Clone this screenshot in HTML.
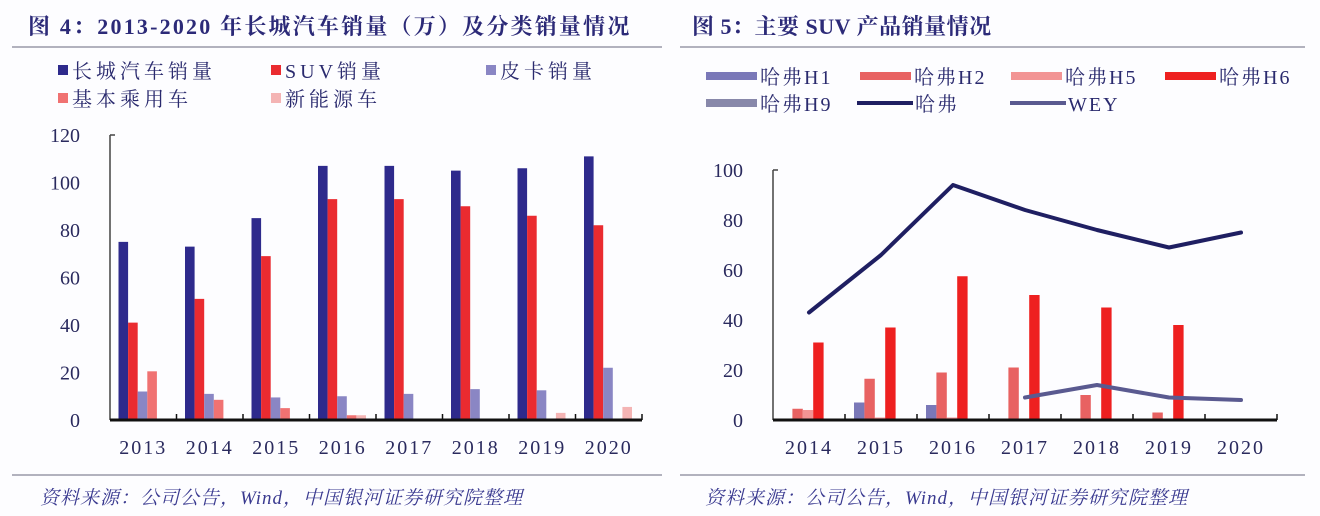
<!DOCTYPE html>
<html><head><meta charset="utf-8"><style>
body{margin:0;width:1320px;height:516px;background:#fdfdff;overflow:hidden;font-family:"Liberation Serif","Noto Serif CJK SC",serif;}
svg{position:absolute;left:0;top:0}
</style></head><body>
<svg width="1320" height="516">
<g id="static">
<text x="28" y="34" font-size="22" font-weight="bold" fill="#2c2a78" letter-spacing="2.2">图 4：2013-2020 年长城汽车销量（万）及分类销量情况</text>
<line x1="12" y1="47" x2="662" y2="47" stroke="#9a9aa8" stroke-width="1.5"/>
<text x="692" y="34" font-size="22" font-weight="bold" fill="#2c2a78" letter-spacing="0.5">图 5：主要 SUV 产品销量情况</text>
<line x1="680" y1="47" x2="1305" y2="47" stroke="#9a9aa8" stroke-width="1.5"/>
<line x1="12" y1="475" x2="662" y2="475" stroke="#9a9aa8" stroke-width="1.5"/>
<line x1="680" y1="475" x2="1305" y2="475" stroke="#9a9aa8" stroke-width="1.5"/>
<text x="40" y="504" font-size="19" font-style="italic" fill="#3a3a90" letter-spacing="1">资料来源：公司公告，Wind，中国银河证券研究院整理</text>
<text x="705" y="504" font-size="19" font-style="italic" fill="#3a3a90" letter-spacing="1">资料来源：公司公告，Wind，中国银河证券研究院整理</text>
</g>
<g id="left"></g>
<g id="right"></g>
</svg>
<script>
const NS="http://www.w3.org/2000/svg";
// Left chart data
const leftYears=["2013","2014","2015","2016","2017","2018","2019","2020"];
const leftSeriesNames=["长城汽车销量","SUV销量","皮卡销量","基本乘用车","新能源车"];
const gwTotal=[75,73,85,107,107,105,106,111];
const suvSales=[41,51,69,93,93,90,86,82];
const pickupSales=[12,11,9.5,10,11,13,12.5,22];
const basicCar=[20.5,8.5,5,2,0.3,0.2,0,0];
const nevSales=[0,0,0,2,0,0,3,5.5];
const leftTicks=[0,20,40,60,80,100,120];
// Right chart data
const rightYears=["2014","2015","2016","2017","2018","2019","2020"];
const rightBarNames=["哈弗H1","哈弗H2","哈弗H5","哈弗H6","哈弗H9"];
const h1=[0,7,6,0.5,0,0,0];
const h2=[4.5,16.5,19,21,10,3,0];
const h5=[4,1,1,0.5,0,0,0];
const h6=[31,37,57.5,50,45,38,0];
const h9=[0,0.5,0.5,0,0,0.3,0];
const haval=[43,66,94,84,76,69,75];
const wey=[null,null,null,9,14,9,8];
const rightTicks=[0,20,40,60,80,100];

function mk(p,tag,a){const e=document.createElementNS(NS,tag);for(const k in a)e.setAttribute(k,a[k]);p.appendChild(e);return e;}

// LEFT
(function(){
const g=document.getElementById('left');
const x0=110,catW=66.5,y0=420,yTop=135,max=120;
const y=v=>y0-(v/max)*(y0-yTop);
const cols=["#2e2a8c","#ea2b30","#8a86c4","#f07272","#f4b4b4"];
const series=[gwTotal,suvSales,pickupSales,basicCar,nevSales];
const bw=9.6,off=8.5;
mk(g,'line',{x1:x0,y1:y(max),x2:x0,y2:y0,stroke:'#444',"stroke-width":1.5});
mk(g,'line',{x1:x0,y1:y(max),x2:x0+5,y2:y(max),stroke:'#444',"stroke-width":1.5});
leftTicks.forEach(t=>{const e=mk(g,'text',{x:x0-30,y:y(t)+7,"font-size":20,fill:'#2a2a5e',"text-anchor":"end"});e.textContent=t;

});
series.forEach((s,si)=>s.forEach((v,i)=>{if(v<=0)return;const r=mk(g,'rect',{x:x0+i*catW+off+si*bw,y:y(v),width:bw,height:y0-y(v),fill:cols[si]});

}));
mk(g,'line',{x1:x0,y1:y0,x2:x0+8*catW,y2:y0,stroke:'#111',"stroke-width":3});
leftYears.forEach((yr,i)=>{mk(g,'line',{x1:x0+(i+1)*catW,y1:y0,x2:x0+(i+1)*catW,y2:y0-6,stroke:'#111',"stroke-width":1.5});
const e=mk(g,'text',{x:x0+(i+.5)*catW,y:454,"font-size":20,fill:'#2a2a5e',"text-anchor":"middle","letter-spacing":"2"});e.textContent=yr;

});
const pos=[[58,76],[271,76],[486,76],[58,104],[271,104]];
leftSeriesNames.forEach((n,i)=>{const lg=mk(g,'g',{});


mk(lg,'rect',{x:pos[i][0],y:pos[i][1]-11,width:10,height:10,fill:cols[i]});
const t=mk(lg,'text',{x:pos[i][0]+14,y:pos[i][1]+2,"font-size":20,fill:'#2a2a6e',"letter-spacing":"4"});t.textContent=n;});
})();

// RIGHT
(function(){
const g=document.getElementById('right');
const x0=773,catW=72,y0=420,yTop=170,max=100;
const y=v=>y0-(v/max)*(y0-yTop);
const cols=["#7a78b8","#e86262","#f29494","#ee2020","#8888aa"];
const series=[h1,h2,h5,h6,h9];
const bw=10.4,off=9;
mk(g,'line',{x1:x0,y1:y(max),x2:x0,y2:y0,stroke:'#444',"stroke-width":1.5});
mk(g,'line',{x1:x0,y1:y(max),x2:x0+5,y2:y(max),stroke:'#444',"stroke-width":1.5});
rightTicks.forEach(t=>{const e=mk(g,'text',{x:x0-30,y:y(t)+7,"font-size":20,fill:'#2a2a5e',"text-anchor":"end"});e.textContent=t;

});
series.forEach((s,si)=>s.forEach((v,i)=>{if(v<=0)return;const r=mk(g,'rect',{x:x0+i*catW+off+si*bw,y:y(v),width:bw,height:y0-y(v),fill:cols[si]});

}));
mk(g,'line',{x1:x0,y1:y0,x2:x0+7*catW,y2:y0,stroke:'#111',"stroke-width":3});
rightYears.forEach((yr,i)=>{mk(g,'line',{x1:x0+(i+1)*catW,y1:y0,x2:x0+(i+1)*catW,y2:y0-6,stroke:'#111',"stroke-width":1.5});
const e=mk(g,'text',{x:x0+(i+.5)*catW,y:454,"font-size":20,fill:'#2a2a5e',"text-anchor":"middle","letter-spacing":"2"});e.textContent=yr;

});
function line(arr,col,name){const pts=[];arr.forEach((v,i)=>{if(v!==null)pts.push((x0+(i+.5)*catW)+','+y(v));});
const p=mk(g,'polyline',{points:pts.join(' '),fill:'none',stroke:col,"stroke-width":4,"stroke-linejoin":"round","stroke-linecap":"round"});

}
line(haval,'#1f1f62','line-haval');
line(wey,'#5a5a90','line-wey');
const items=[["哈弗H1",'bar',cols[0],706,93],["哈弗H2",'bar',cols[1],860,93],["哈弗H5",'bar',cols[2],1011,93],["哈弗H6",'bar',cols[3],1165,93],["哈弗H9",'bar',cols[4],706,120],["哈弗",'line','#1f1f62',857,120],["WEY",'line','#5a5a90',1010,120]];
items.forEach(it=>{const lg=mk(g,'g',{});


if(it[1]==='bar')mk(lg,'rect',{x:it[3],y:it[4]-21,width:51,height:8,fill:it[2]});
else mk(lg,'rect',{x:it[3],y:it[4]-19,width:56,height:4,fill:it[2]});
const t=mk(lg,'text',{x:it[3]+(it[1]==='bar'?54:58),y:it[4]-9,"font-size":20,fill:'#2a2a6e',"letter-spacing":"2"});t.textContent=it[0];});
})();
</script>
</body></html>
